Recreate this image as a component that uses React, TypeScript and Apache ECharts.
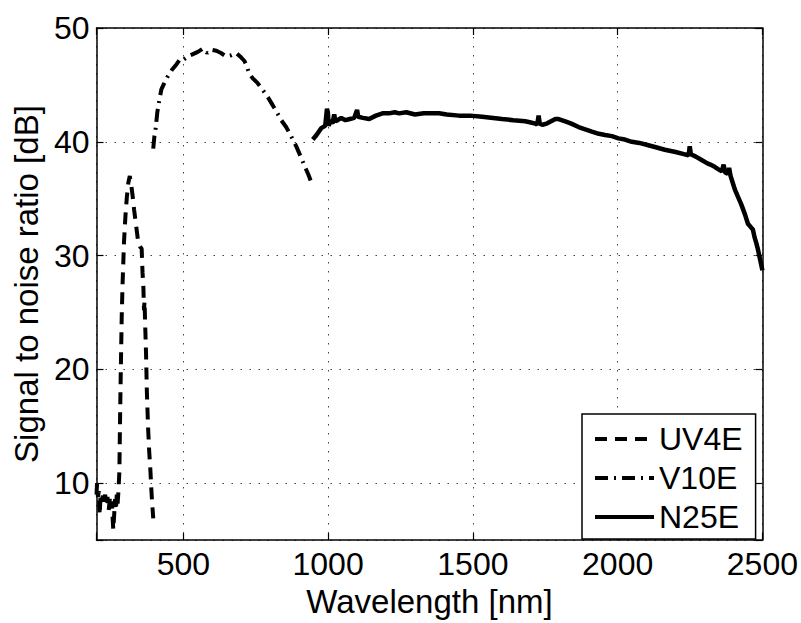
import React, { useEffect, useRef } from "react";
import * as echarts from "echarts";

// Wavelength [nm] / SNR [dB] pairs
const uv4e: [number, number][] = [
  [200, 9.0], [202, 10.0], [205, 8.8], [208, 9.3], [211, 7.2], [214, 8.9], [218, 8.4], [222, 8.9],
  [226, 8.1], [230, 9.0], [234, 8.0], [238, 8.8], [242, 7.6], [246, 8.6], [250, 7.9], [253, 8.4],
  [256, 6.8], [258, 5.9], [261, 7.2], [264, 8.6], [267, 7.6], [270, 9.0], [273, 8.2], [276, 9.4],
  [279, 11.0], [281, 15.0], [284, 20.0], [287, 24.5], [290, 27.5], [295, 31.2], [300, 33.5],
  [305, 35.2], [310, 36.4], [315, 37.0], [320, 36.2], [325, 35.2], [330, 34.0], [337, 32.6],
  [343, 31.4], [350, 30.8], [356, 30.6], [359, 28.5], [362, 27.2], [364, 25.2], [366, 26.0],
  [368, 24.0], [371, 21.5], [374, 18.0], [378, 15.0], [382, 12.8], [386, 11.2], [390, 9.2],
  [393, 8.0], [396, 6.9],
];

const v10e: [number, number][] = [
  [396, 39.4], [400, 40.5], [405, 41.3], [410, 42.6], [416, 43.5], [424, 44.6], [435, 45.2],
  [447, 45.8], [460, 46.3], [476, 46.8], [490, 47.3], [500, 47.2], [515, 47.5], [533, 47.7],
  [550, 47.9], [568, 48.2], [575, 48.0], [582, 47.8], [595, 48.1], [614, 48.0], [630, 47.8],
  [648, 47.5], [665, 47.6], [683, 47.8], [700, 47.4], [711, 47.1], [720, 46.6], [727, 46.0],
  [739, 45.6], [755, 45.2], [773, 44.6], [790, 44.0], [809, 43.2], [825, 42.5], [838, 41.9],
  [855, 41.3], [872, 40.5], [890, 39.6], [907, 38.6], [920, 37.8], [932, 37.1], [944, 36.3],
];

const n25e: [number, number][] = [
  [947, 40.2], [960, 40.6], [976, 41.2], [990, 41.4], [996, 42.9], [999, 42.6], [1002, 41.4],
  [1008, 41.9], [1015, 41.6], [1021, 42.4], [1025, 41.8], [1033, 41.9], [1045, 42.1], [1060, 41.9],
  [1075, 42.0], [1090, 42.1], [1100, 42.8], [1104, 42.2], [1120, 42.1], [1142, 42.0], [1165, 42.3],
  [1188, 42.5], [1210, 42.5], [1230, 42.6], [1245, 42.5], [1270, 42.6], [1300, 42.4], [1330, 42.5],
  [1360, 42.5], [1383, 42.5], [1410, 42.4], [1452, 42.3], [1490, 42.3], [1532, 42.2], [1570, 42.1],
  [1601, 42.0], [1640, 41.9], [1681, 41.8], [1700, 41.7], [1716, 41.6], [1722, 41.5], [1727, 42.3],
  [1731, 41.6], [1740, 41.5], [1755, 41.6], [1770, 41.8], [1785, 42.0], [1796, 42.0], [1819, 41.8],
  [1840, 41.6], [1865, 41.3], [1888, 41.1], [1911, 40.9], [1935, 40.7], [1957, 40.6], [1980, 40.5],
  [2003, 40.3], [2025, 40.2], [2049, 40.0], [2075, 39.9], [2106, 39.7], [2135, 39.5], [2163, 39.3],
  [2200, 39.1], [2232, 38.9], [2245, 38.8], [2249, 39.6], [2253, 38.9], [2270, 38.7], [2290, 38.4],
  [2310, 38.1], [2320, 38.0], [2335, 37.8], [2347, 37.6], [2360, 37.4], [2366, 38.0], [2371, 37.3],
  [2380, 37.2], [2385, 37.7], [2390, 37.0], [2395, 36.6], [2405, 35.8], [2415, 35.2], [2427, 34.5],
  [2440, 33.6], [2450, 32.8], [2460, 32.5], [2467, 32.3], [2473, 31.6], [2479, 31.1], [2485, 30.5],
  [2490, 29.9], [2495, 29.3], [2500, 28.7],
];

const seriesNames = ["UV4E", "V10E", "N25E"];
const xRange = [200, 2500];
const yRange = [5, 50];

const FONT = "'Liberation Sans', Arial, Helvetica, sans-serif";

export default function App() {
  const ref = useRef<HTMLDivElement>(null);
  useEffect(() => {
    if (!ref.current) return;
    const chart = echarts.init(ref.current, null, { renderer: "svg" });
    const axisLine = { show: true, onZero: false, lineStyle: { color: "#000", width: 1.5 } };
    const tick = { show: true, inside: true, length: 7, lineStyle: { color: "#000", width: 1.2 } };
    const grid = { show: true, lineStyle: { color: "#444", type: [1.5, 7.5], width: 1 } };
    const lineBase = { type: "line", showSymbol: false, symbol: "none", smooth: false, z: 5 };
    chart.setOption({
      animation: false,
      backgroundColor: "#fff",
      textStyle: { fontFamily: FONT },
      grid: { left: 96.5, right: 37, top: 28, bottom: 75 },
      legend: {
        orient: "vertical",
        left: 582,
        top: 414,
        data: seriesNames,
        backgroundColor: "#fff",
        borderColor: "#000",
        borderWidth: 1.5,
        borderRadius: 0,
        padding: [9, 13, 6, 11],
        itemWidth: 59,
        itemHeight: 20,
        itemGap: 7,
        itemStyle: { opacity: 0, borderWidth: 0, color: "rgba(0,0,0,0)" },
        lineStyle: { width: 4 },
        textStyle: { fontSize: 32, color: "#000", fontFamily: FONT },
      },
      xAxis: [
        {
          type: "value",
          min: xRange[0],
          max: xRange[1],
          position: "bottom",
          name: "Wavelength [nm]",
          nameLocation: "middle",
          nameGap: 42,
          nameTextStyle: { fontSize: 33, color: "#000", fontFamily: FONT },
          axisLine,
          axisTick: tick,
          splitLine: grid,
          axisLabel: {
            fontSize: 32,
            color: "#000",
            fontFamily: FONT,
            margin: 8,
            formatter: (v: number) => (v % 500 === 0 ? String(v) : ""),
          },
        },
        {
          type: "value",
          min: xRange[0],
          max: xRange[1],
          position: "top",
          axisLine,
          axisTick: tick,
          splitLine: { show: false },
          axisLabel: { show: false },
        },
      ],
      yAxis: [
        {
          type: "value",
          min: yRange[0],
          max: yRange[1],
          position: "left",
          name: "Signal to noise ratio [dB]",
          nameLocation: "middle",
          nameGap: 53,
          nameTextStyle: { fontSize: 33, color: "#000", fontFamily: FONT },
          axisLine,
          axisTick: tick,
          splitLine: grid,
          axisLabel: {
            fontSize: 32,
            color: "#000",
            fontFamily: FONT,
            margin: 7,
            formatter: (v: number) => (v % 10 === 0 ? String(v) : ""),
          },
        },
        {
          type: "value",
          min: yRange[0],
          max: yRange[1],
          position: "right",
          axisLine,
          axisTick: tick,
          splitLine: { show: false },
          axisLabel: { show: false },
        },
      ],
      series: [
        { ...lineBase, name: seriesNames[0], data: uv4e, lineStyle: { color: "#000", width: 4, type: [12, 8] }, itemStyle: { color: "#000" } },
        { ...lineBase, name: seriesNames[1], data: v10e, lineStyle: { color: "#000", width: 4, type: [13, 6, 2, 6] }, itemStyle: { color: "#000" } },
        { ...lineBase, name: seriesNames[2], data: n25e, lineStyle: { color: "#000", width: 4.5, type: "solid" }, itemStyle: { color: "#000" } },
      ],
    });
    return () => chart.dispose();
  }, []);
  return (
    <div
      ref={ref}
      style={{ position: "fixed", left: 0, top: 0, width: 801, height: 623, background: "#fff" }}
    />
  );
}
